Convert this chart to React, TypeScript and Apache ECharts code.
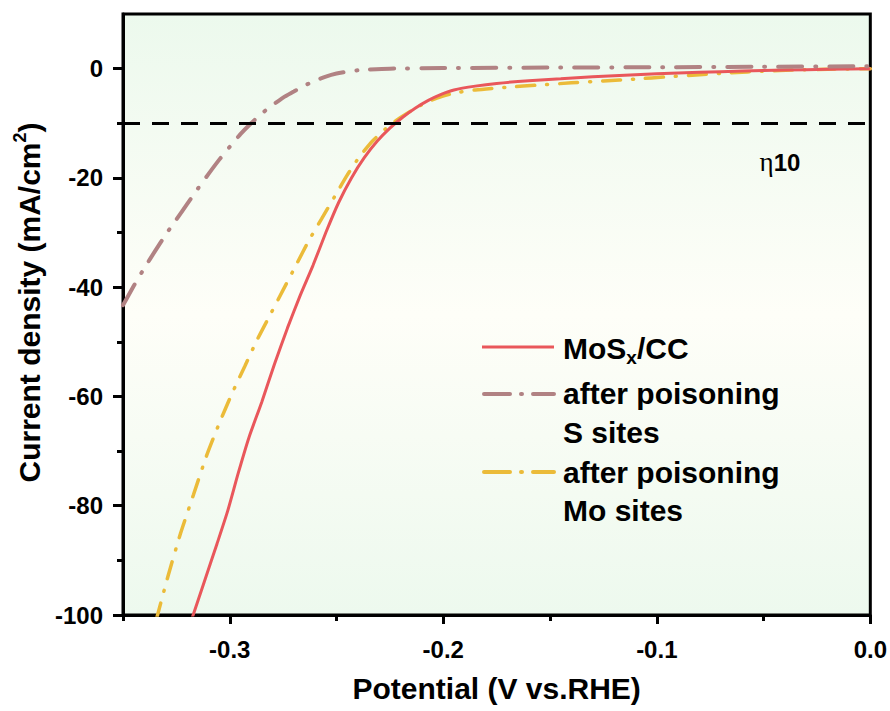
import React, { useEffect, useRef } from 'react';
import * as echarts from 'echarts';

const FONT = '"Liberation Sans", Arial, Helvetica, sans-serif';

// Axis ticks
const potentialTicks = [-0.3, -0.2, -0.1, 0];
const potentialMinorTicks = [-0.35, -0.25, -0.15, -0.05];
const currentTicks = [-100, -80, -60, -40, -20, 0];
const currentMinorTicks = [-90, -70, -50, -30, -10];
const eta10Current = -10;

// MoSx/CC polarization curve (V vs. RHE, mA/cm2)
const mosxPotential = [-0.318, -0.312, -0.306, -0.301, -0.296, -0.291, -0.285, -0.279, -0.273, -0.267, -0.261, -0.255, -0.249, -0.243, -0.237, -0.231, -0.225, -0.219, -0.213, -0.207, -0.201, -0.195, -0.185, -0.175, -0.16, -0.145, -0.13, -0.115, -0.1, -0.08, -0.06, -0.04, -0.02, 0];
const mosxCurrent = [-101, -94, -87, -81, -74, -67.5, -61, -54, -47.5, -41.5, -36, -30, -24.5, -20, -16.3, -13.3, -10.9, -8.9, -7.2, -5.8, -4.7, -3.9, -3.2, -2.7, -2.2, -1.85, -1.5, -1.2, -0.95, -0.68, -0.45, -0.27, -0.12, 0];

// After poisoning S sites
const sPoisonPotential = [-0.35, -0.345, -0.34, -0.335, -0.33, -0.325, -0.32, -0.315, -0.31, -0.305, -0.3, -0.295, -0.29, -0.285, -0.28, -0.275, -0.27, -0.265, -0.26, -0.255, -0.25, -0.245, -0.24, -0.235, -0.225, -0.2, -0.15, -0.1, -0.05, 0];
const sPoisonCurrent = [-43.3, -39.8, -36.5, -33.4, -30.4, -27.6, -24.8, -22, -19.3, -16.7, -14.3, -12, -10, -8.2, -6.7, -5.3, -4.2, -3.1, -2.2, -1.45, -0.9, -0.55, -0.3, -0.15, 0, 0.1, 0.2, 0.25, 0.35, 0.45];

// After poisoning Mo sites
const moPoisonPotential = [-0.3345, -0.329, -0.323, -0.317, -0.311, -0.305, -0.299, -0.293, -0.287, -0.281, -0.275, -0.269, -0.263, -0.257, -0.251, -0.245, -0.239, -0.233, -0.227, -0.221, -0.215, -0.209, -0.203, -0.195, -0.185, -0.17, -0.155, -0.14, -0.125, -0.11, -0.095, -0.08, -0.065, -0.05, -0.035, -0.02, 0];
const moPoisonCurrent = [-101, -93, -85, -78, -71, -65, -59.5, -54.5, -49.5, -45, -40.5, -36, -31.5, -27.5, -23.5, -19.5, -16, -13.2, -11, -9.2, -7.7, -6.4, -5.4, -4.5, -3.9, -3.4, -3.0, -2.6, -2.25, -1.9, -1.5, -1.1, -0.75, -0.45, -0.25, -0.1, 0];

const RED = '#e9575b';
const BROWN = '#b18283';
const YELLOW = '#ebbb39';

const zip = (xs: number[], ys: number[]) => xs.map((x, i) => [x, ys[i]]);

const boldText = (size: number) => ({
  fontFamily: FONT,
  fontWeight: 'bold' as const,
  fontSize: size,
  color: '#000',
});

export default function App() {
  const ref = useRef<HTMLDivElement>(null);

  useEffect(() => {
    if (!ref.current) return;
    const chart = echarts.init(ref.current, undefined, { renderer: 'svg' });

    const legendText = (text: string, y: number, rich?: any) => ({
      type: 'text',
      x: 563,
      y,
      style: {
        text,
        fill: '#000',
        font: `bold 30px ${FONT}`,
        textAlign: 'left',
        textVerticalAlign: 'middle',
        rich,
      },
    });

    chart.setOption({
      animation: false,
      backgroundColor: '#ffffff',
      grid: {
        left: 123,
        right: 19,
        top: 14,
        bottom: 96,
        show: true,
        borderColor: '#000',
        borderWidth: 3,
        backgroundColor: new echarts.graphic.LinearGradient(0, 0, 0, 1, [
          { offset: 0, color: '#ecf9ed' },
          { offset: 0.5, color: '#fefef8' },
          { offset: 1, color: '#edf9ee' },
        ]),
      },
      xAxis: [
        {
          type: 'value',
          min: -0.35,
          max: 0,
          interval: 0.05,
          name: 'Potential (V vs.RHE)',
          nameLocation: 'middle',
          nameGap: 58,
          nameTextStyle: boldText(30),
          axisLine: { show: true, onZero: false, lineStyle: { color: '#000', width: 3 } },
          axisTick: {
            show: true,
            customValues: potentialTicks,
            length: 9,
            lineStyle: { color: '#000', width: 3 },
          },
          axisLabel: {
            customValues: potentialTicks,
            formatter: (v: number) => v.toFixed(1),
            margin: 22,
            ...boldText(24),
          },
          splitLine: { show: false },
        },
        {
          type: 'value',
          min: -0.35,
          max: 0,
          interval: 0.05,
          position: 'bottom',
          axisLine: { show: false, onZero: false },
          axisTick: {
            show: true,
            customValues: potentialMinorTicks,
            length: 6,
            lineStyle: { color: '#000', width: 3 },
          },
          axisLabel: { show: false },
          splitLine: { show: false },
        },
      ],
      yAxis: [
        {
          type: 'value',
          min: -100,
          max: 10,
          interval: 20,
          name: '{a|Current density (mA/cm}{s|2}{a|)}',
          nameLocation: 'middle',
          nameGap: 72,
          nameRotate: 90,
          nameTextStyle: {
            ...boldText(30),
            padding: [0, 0, 0, 24],
            rich: {
              a: { ...boldText(30), lineHeight: 36 },
              s: { ...boldText(18), lineHeight: 36, verticalAlign: 'top' },
            },
          },
          axisLine: { show: true, onZero: false, lineStyle: { color: '#000', width: 3 } },
          axisTick: {
            show: true,
            customValues: currentTicks,
            length: 10,
            lineStyle: { color: '#000', width: 3 },
          },
          axisLabel: {
            customValues: currentTicks,
            margin: 20,
            ...boldText(24),
          },
          splitLine: { show: false },
        },
        {
          type: 'value',
          min: -100,
          max: 10,
          interval: 20,
          position: 'left',
          axisLine: { show: false, onZero: false },
          axisTick: {
            show: true,
            customValues: currentMinorTicks,
            length: 6,
            lineStyle: { color: '#000', width: 3 },
          },
          axisLabel: { show: false },
          splitLine: { show: false },
        },
      ],
      series: [
        {
          name: 'after poisoning Mo sites',
          type: 'line',
          data: zip(moPoisonPotential, moPoisonCurrent),
          symbol: 'none',
          smooth: 0.2,
          clip: true,
          lineStyle: { color: YELLOW, width: 3.5, type: [18, 12, 1, 12], cap: 'round' },
          z: 2,
        },
        {
          name: 'MoSx/CC',
          type: 'line',
          data: zip(mosxPotential, mosxCurrent),
          symbol: 'none',
          smooth: 0.2,
          clip: true,
          lineStyle: { color: RED, width: 3 },
          z: 3,
        },
        {
          name: 'after poisoning S sites',
          type: 'line',
          data: zip(sPoisonPotential, sPoisonCurrent),
          symbol: 'none',
          smooth: 0.2,
          clip: true,
          lineStyle: { color: BROWN, width: 4, type: [24, 13, 1, 13], cap: 'round' },
          z: 4,
          markLine: {
            silent: true,
            symbol: 'none',
            label: { show: false },
            lineStyle: { color: '#000', width: 3, type: [17, 12] },
            data: [{ yAxis: eta10Current }],
          },
        },
      ],
      graphic: [
        {
          type: 'line',
          shape: { x1: 482, y1: 347, x2: 554, y2: 347 },
          style: { stroke: RED, lineWidth: 3 },
        },
        {
          type: 'line',
          shape: { x1: 484, y1: 394, x2: 554, y2: 394 },
          style: { stroke: BROWN, lineWidth: 4, lineDash: [26, 11, 1, 11], lineCap: 'round' },
        },
        {
          type: 'line',
          shape: { x1: 484, y1: 472, x2: 554, y2: 472 },
          style: { stroke: YELLOW, lineWidth: 4, lineDash: [26, 11, 1, 11], lineCap: 'round' },
        },
        legendText('{a|MoS}{b|x}{a|/CC}', 348, {
          a: { ...boldText(30), lineHeight: 38 },
          b: { ...boldText(19), lineHeight: 38, verticalAlign: 'bottom' },
        }),
        legendText('after poisoning', 393),
        legendText('S sites', 432),
        legendText('after poisoning', 472),
        legendText('Mo sites', 510),
        {
          type: 'text',
          x: 780,
          y: 162,
          style: {
            text: '{e|η}{n|10}',
            textAlign: 'center',
            textVerticalAlign: 'middle',
            rich: {
              e: { fontFamily: '"Liberation Serif", "DejaVu Serif", serif', fontSize: 27, color: '#000' },
              n: { ...boldText(24) },
            },
          },
        },
      ],
    });

    return () => chart.dispose();
  }, []);

  return (
    <div
      ref={ref}
      style={{ position: 'fixed', left: 0, top: 0, width: 890, height: 711, background: '#fff' }}
    />
  );
}
